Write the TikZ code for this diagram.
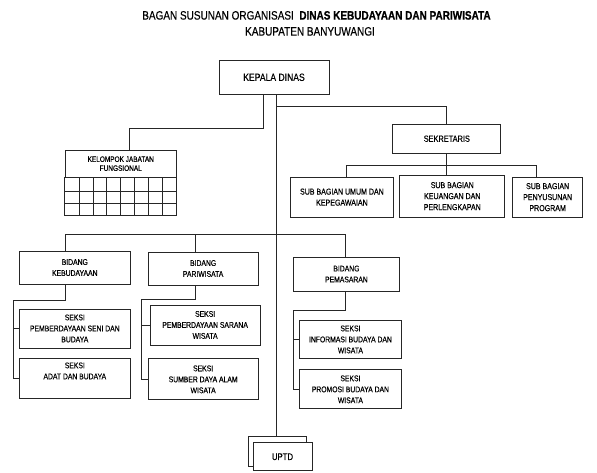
\documentclass[tikz,border=0pt]{standalone}
\usepackage{fontspec}
\setmainfont{Liberation Sans}[FakeStretch=0.82,UprightFeatures={FakeBold=0.35},BoldFeatures={FakeBold=0.6}]
\begin{document}
\begin{tikzpicture}[x=1pt,y=-1pt,line width=0.85pt,
  every path/.style={draw=black!85},
  box/.style={draw=black!85,rectangle,inner sep=0pt,align=center,text=black,
    font=\fontsize{8.3}{11}\selectfont},
  sz/.style 2 args={minimum width=#1pt,minimum height=#2pt},
  ttl/.style={inner sep=0pt,text=black}]
\useasboundingbox (0,0) rectangle (597,472);
\fill[white] (0,0) rectangle (597,472);

% title
\node[ttl,font=\fontsize{12.2}{14}\selectfont] (t1) at (316.5,15) {BAGAN SUSUNAN ORGANISASI\ \ \textbf{DINAS KEBUDAYAAN DAN PARIWISATA}};
\node[ttl,font=\fontsize{12.2}{14}\selectfont] (t2) at (310,31) {KABUPATEN BANYUWANGI};

% boxes
\node[box,sz={110}{34},font=\fontsize{10.5}{12}\selectfont] (kepala) at (274,77) {KEPALA DINAS};
\node[box,sz={111}{27},font=\fontsize{7.9}{9}\selectfont] (kelompok) at (120.5,163.5) {KELOMPOK JABATAN\\FUNGSIONAL};
\node[box,sz={108}{29},font=\fontsize{9}{11}\selectfont] (sekretaris) at (447,138.5) {SEKRETARIS};
\node[box,sz={104}{40},font=\fontsize{8.6}{11}\selectfont] (sub1) at (342,197) {SUB BAGIAN UMUM DAN\\KEPEGAWAIAN};
\node[box,sz={105}{42},font=\fontsize{8.6}{11}\selectfont] (sub2) at (452.5,196) {SUB BAGIAN\\KEUANGAN DAN\\PERLENGKAPAN};
\node[box,sz={70}{40},font=\fontsize{8.6}{11}\selectfont] (sub3) at (548,197) {SUB BAGIAN\\PENYUSUNAN\\PROGRAM};

\node[box,sz={111}{33}] (bid1) at (74.5,267.5) {BIDANG\\KEBUDAYAAN};
\node[box,sz={110}{33}] (bid2) at (203,268.5) {BIDANG\\PARIWISATA};
\node[box,sz={107}{34}] (bid3) at (346.5,274) {BIDANG\\PEMASARAN};

\node[box,sz={111}{39}] (s11) at (74.5,328.5) {SEKSI\\PEMBERDAYAAN SENI DAN\\BUDAYA};
\node[box,sz={111}{40}] (s12) at (74.5,379) {SEKSI\\ADAT DAN BUDAYA\\[5pt]};
\node[box,sz={110}{40}] (s21) at (205,325) {SEKSI\\PEMBERDAYAAN SARANA\\WISATA};
\node[box,sz={110}{41}] (s22) at (203,379.5) {SEKSI\\SUMBER DAYA ALAM\\WISATA};
\node[box,sz={103}{39}] (s31) at (350.5,339.5) {SEKSI\\INFORMASI BUDAYA DAN\\WISATA};
\node[box,sz={103}{39}] (s32) at (350.5,389.5) {SEKSI\\PROMOSI BUDAYA DAN\\WISATA};

\node[box,sz={58}{30}] (uptdb) at (277,452) {};
\node[box,sz={59}{28},fill=white,font=\fontsize{9.5}{11}\selectfont] (uptd) at (282.5,457) {UPTD};

% kelompok grid
\foreach \yy in {191,203} \draw (kelompok.south west |- 0,\yy) -- (kelompok.south east |- 0,\yy);
\draw (kelompok.south west) rectangle (176,215);
\foreach \k in {1,...,7} \draw ({65+\k*13.875},177) -- ({65+\k*13.875},215);

% junction coordinates
\coordinate (kL) at (263,128);
\coordinate (kJ) at (129,128);
\coordinate (kR) at (276,106);
\coordinate (p1) at (346,165);
\coordinate (p2) at (447,165);
\coordinate (p3) at (537,165);
\coordinate (d1) at (65,234);
\coordinate (d2) at (195,234);
\coordinate (d3) at (345,234);
\coordinate (e1) at (13,300);
\coordinate (f1) at (65,300);
\coordinate (e2) at (141,299);
\coordinate (f2) at (195,299);
\coordinate (e3) at (293,310);
\coordinate (f3) at (345,310);

% connectors
\draw (kepala.south -| kL) -- (kL) -- (kJ) -- (kelompok.north -| kJ);
\draw (kepala.south -| kR) -- (uptdb.north -| kR);
\draw (kR) -| (sekretaris.north);
\draw (sekretaris.south) -- (p2);
\draw (p1) -- (p3);
\draw (p1) -- (sub1.north -| p1);
\draw (p2) -- (sub2.north -| p2);
\draw (p3) -- (sub3.north -| p3);

\draw (d1) -- (d3);
\draw (d1) -- (bid1.north -| d1);
\draw (d2) -- (bid2.north -| d2);
\draw (d3) -- (bid3.north -| d3);

\draw (bid1.south -| f1) -- (f1) -- (e1) |- (s12.west);
\draw (s11.west -| e1) -- (s11.west);
\draw (bid2.south -| f2) -- (f2) -- (e2) |- (s22.west);
\draw (s21.west -| e2) -- (s21.west);
\draw (bid3.south -| f3) -- (f3) -- (e3) |- (s32.west);
\draw (s31.west -| e3) -- (s31.west);
\end{tikzpicture}
\end{document}
